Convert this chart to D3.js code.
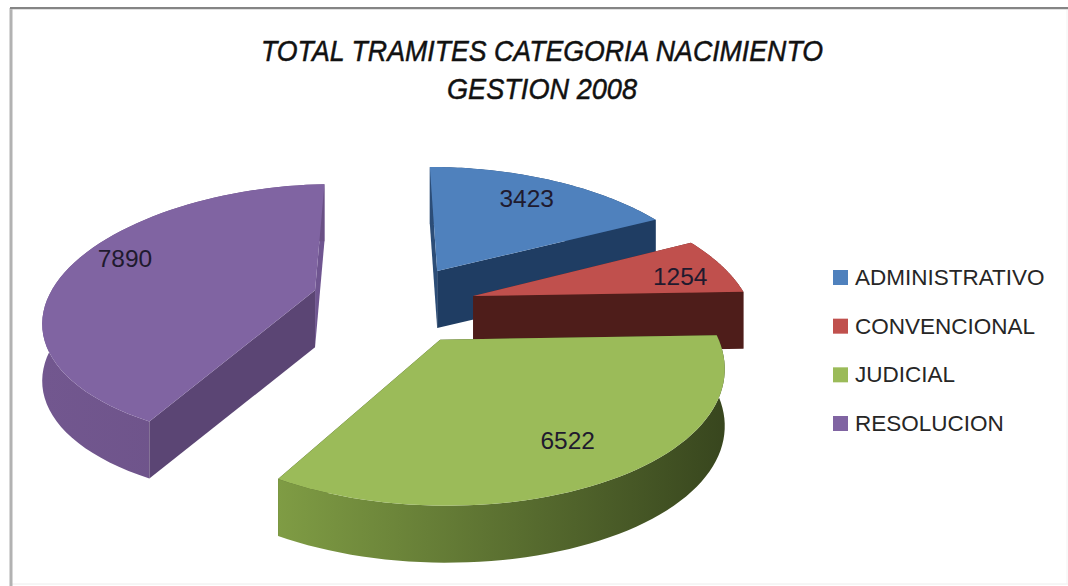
<!DOCTYPE html>
<html>
  <head>
    <meta http-equiv="content-type" content="text/html; charset=utf-8" />
    <title>Total tramites</title>
    <script src="https://cdn.jsdelivr.net/npm/d3@7"></script>
    <style type="text/css">
      html, body { margin: 0; padding: 0; background: #fff; }
      svg { display: block; }
      text { font-family: "Liberation Sans", sans-serif; }
    </style>
  </head>
  <body>
    <script type="text/javascript">
var categories = ["ADMINISTRATIVO", "CONVENCIONAL", "JUDICIAL", "RESOLUCION"];
var values = [3423, 1254, 6522, 7890];
var titleLines = ["TOTAL TRAMITES CATEGORIA NACIMIENTO", "GESTION 2008"];

var topColors = ["#4f81bd", "#c0504d", "#9bbb59", "#8064a2"];
var frontCut = ["#1f3d63", "#4e1d1a", "#3e4c22", "#5b4574"];
var backCut = ["#2c4d77", "#5a2320", "#3e4c22", "#6f5590"];
var rimLeft = ["#2c4d77", "#7a2f2c", "#7f9c44", "#72578f"];
var rimRight = ["#1f3d63", "#5a2320", "#38461e", "#6a5085"];

// each slice is pulled out by hand in the source chart, so keep the offsets per slice
var pullX = [0.123, 0.25, 0.121, -0.333];
var pullY = [-0.2, -0.007, 0.3, -0.05];
var radius = [1.04, 1, 0.96, 0.975];
var turn = [0, 0, 0, -0.044];
// which cut face looks at the viewer
var frontFace = ["end", "end", null, "start"];
// where the number sits in each slice
var labelR = [0.79, 0.808, 0.72, 0.804];
var labelTurn = [0, 0.047, -0.026, 0.093];

var w = 1068, h = 586,
    cx = 405, cy = 297,
    rx = 273, ry = 135,
    perspX = 0.21, perspY = 0.18,
    depth = 57;

var svg = d3.select("body").append("svg")
  .attr("width", w)
  .attr("height", h);

// frame, only top and left are really visible in the source
function frameLine(x1, y1, x2, y2, color, width) {
  svg.append("line")
    .attr("x1", x1).attr("y1", y1)
    .attr("x2", x2).attr("y2", y2)
    .attr("stroke", color)
    .attr("stroke-width", width);
}
frameLine(10, 584, w, 584, "#ececec", 1);
frameLine(w - 1, 10, w - 1, 584, "#f2f2f2", 1);
frameLine(11, 8, 11, h, "#b2b2b2", 3);
frameLine(10, 9, w, 9, "#c4c4c4", 1);
frameLine(10, 8, w, 8, "#858585", 2);

var xScale = d3.scaleLinear().domain([-1, 1]).range([cx - rx, cx + rx]);
var yScale = d3.scaleLinear().domain([-1, 1]).range([cy - ry, cy + ry]);

function project(X, Y, drop) {
  return [xScale(X * (1 + perspX * Y)), yScale(Y * (1 + perspY * Y)) + (drop || 0)];
}

var pie = d3.pie().sort(null).value(function(d) { return d; });
var arcs = pie(values);

function slicePoint(i, angle, r, drop) {
  var a = angle + turn[i];
  return project(r * Math.sin(a) + pullX[i], -r * Math.cos(a) + pullY[i], drop);
}

function rimPoints(i, drop) {
  return d3.range(0, 61).map(function(k) {
    var a = arcs[i].startAngle + (arcs[i].endAngle - arcs[i].startAngle) * k / 60;
    return slicePoint(i, a, radius[i], drop);
  });
}

var line = d3.line();
var defs = svg.append("defs");

function drawSlice(i) {
  var g = svg.append("g").attr("class", "slice");
  var top = rimPoints(i, 0);
  var bottom = rimPoints(i, depth);
  var apex = slicePoint(i, 0, 0, 0);
  var apexLow = slicePoint(i, 0, 0, depth);

  var extent = d3.extent(top, function(p) { return p[0]; });
  var grad = defs.append("linearGradient")
    .attr("id", "rim" + i)
    .attr("gradientUnits", "userSpaceOnUse")
    .attr("x1", extent[0]).attr("x2", extent[1])
    .attr("y1", 0).attr("y2", 0);
  grad.append("stop").attr("offset", 0).attr("stop-color", rimLeft[i]);
  grad.append("stop").attr("offset", 1).attr("stop-color", rimRight[i]);

  function cutFace(p, color) {
    g.append("path")
      .attr("d", line([apex, p, [p[0], p[1] + depth], apexLow]) + "Z")
      .attr("fill", color);
  }

  // back faces under the rim, the front face over it
  var startPt = top[0], endPt = top[top.length - 1];
  if (frontFace[i] !== "start") cutFace(startPt, backCut[i]);
  if (frontFace[i] !== "end") cutFace(endPt, backCut[i]);

  g.append("path")
    .attr("d", line(top.concat(bottom.slice().reverse())) + "Z")
    .attr("fill", "url(#rim" + i + ")");

  if (frontFace[i] === "start") cutFace(startPt, frontCut[i]);
  if (frontFace[i] === "end") cutFace(endPt, frontCut[i]);

  g.append("path")
    .attr("d", line([apex].concat(top)) + "Z")
    .attr("fill", topColors[i]);
}

[3, 0, 1, 2].forEach(drawSlice);

// value labels
categories.forEach(function(c, i) {
  var mid = (arcs[i].startAngle + arcs[i].endAngle) / 2;
  var p = slicePoint(i, mid + labelTurn[i], labelR[i], 0);
  svg.append("text")
    .attr("x", p[0]).attr("y", p[1] + 9)
    .attr("text-anchor", "middle")
    .attr("font-size", 24.5)
    .attr("fill", "#1f1a2e")
    .text(values[i]);
});

// title
svg.selectAll(".title")
  .data(titleLines)
  .enter()
    .append("text")
    .attr("class", "title")
    .attr("x", 542)
    .attr("y", function(d, i) { return 61 + i * 38; })
    .attr("text-anchor", "middle")
    .attr("font-size", 30)
    .attr("font-style", "italic")
    .attr("fill", "#111")
    .attr("stroke", "#111")
    .attr("stroke-width", 0.5)
    .attr("textLength", function(d, i) { return i === 0 ? 562 : 190; })
    .attr("lengthAdjust", "spacingAndGlyphs")
    .text(function(d) { return d; });

// legend
var legendY = d3.scalePoint().domain(categories).range([277, 423]);

var legend = svg.selectAll(".legend")
  .data(categories)
  .enter()
    .append("g")
    .attr("class", "legend")
    .attr("transform", function(d) { return "translate(833," + legendY(d) + ")"; });

legend.append("rect")
  .attr("x", 0).attr("y", -7)
  .attr("width", 15).attr("height", 15)
  .attr("fill", function(d, i) { return topColors[i]; });

legend.append("text")
  .attr("x", 22).attr("y", 8)
  .attr("font-size", 22.5)
  .attr("fill", "#262626")
  .text(function(d) { return d; });
    </script>
  </body>
</html>
